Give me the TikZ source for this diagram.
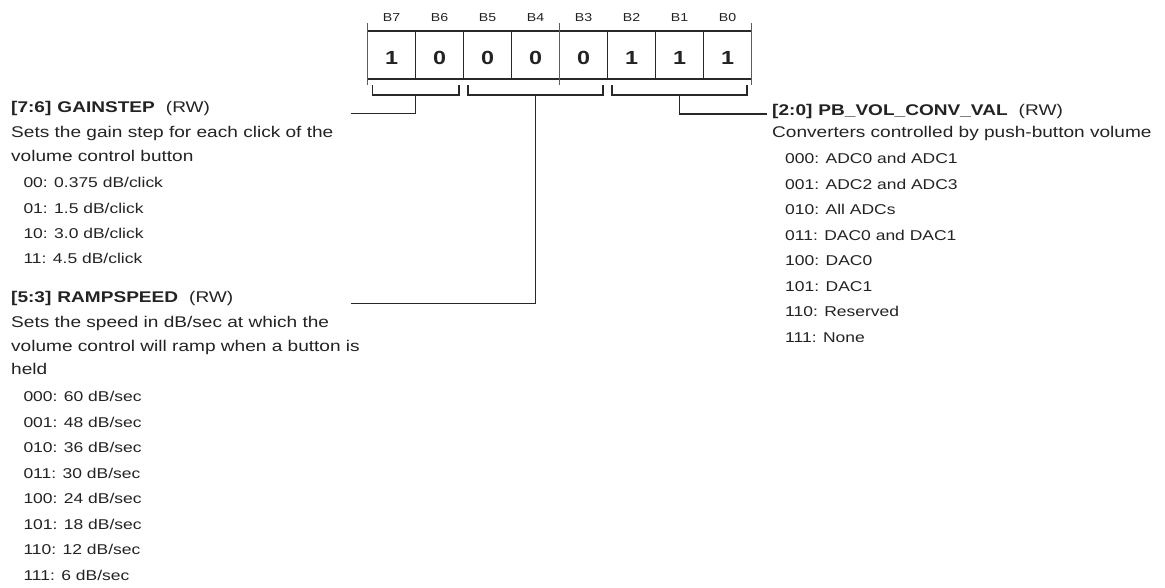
\documentclass[tikz,border=0pt]{standalone}
\usepackage{fontspec}
\setmainfont[FakeStretch=1.23]{Liberation Sans}
\definecolor{ink}{RGB}{35,35,35}
\definecolor{rule}{RGB}{40,40,40}
\begin{document}
\begin{tikzpicture}[x=1pt,y=-1pt,
  txt/.style={inner sep=0pt,anchor=base west,text=ink,font=\fontsize{15.5}{18}\selectfont},
  item/.style={inner sep=0pt,anchor=base west,text=ink,font=\fontsize{14.2}{17}\selectfont},
  bitlbl/.style={inner sep=0pt,anchor=base,text=ink,font=\fontsize{11.5}{13}\selectfont},
  bitval/.style={inner sep=0pt,anchor=base,text=ink,font=\bfseries\fontsize{19}{22}\selectfont},
  cell/.style={draw=rule,line width=1.2pt,minimum width=48pt,minimum height=48pt,inner sep=0pt,outer sep=0pt,anchor=north west},
  wire/.style={draw=rule,line width=1.3pt},
  tick/.style={draw=rule!75,line width=1.2pt}]
\fill[white] (0,0) rectangle (1165,587);
\useasboundingbox (0,0) rectangle (1165,587);
% register
\foreach \i/\v [count=\k from 0] in {7/1,6/0,5/0,4/0,3/0,2/1,1/1,0/1} {
  \node[cell] (c\i) at ({367.5+48*\k},31) {};
  \node[bitval] (v\i) at ({391.5+48*\k},64.8) {\v};
  \node[bitlbl] (b\i) at ({391.5+48*\k},21.1) {B\i};
}
\draw[tick] (367.5,23) -- (367.5,85);
\draw[tick] (559.5,23) -- (559.5,85);
\draw[tick] (751.5,23) -- (751.5,85);
% brackets
\draw[wire] (372.5,85) -- (372.5,95) -- (459,95) -- (459,85);
\draw[wire] (468,85) -- (468,95) -- (603,95) -- (603,85);
\draw[wire] (612,85) -- (612,95) -- (747,95) -- (747,85);
\coordinate (m1) at (415.5,95);
\coordinate (m2) at (535.5,95);
\coordinate (m3) at (679.5,95);
\coordinate (e1) at (351,113.5);
\coordinate (e2) at (351,303.5);
\coordinate (e3) at (767,114);
\draw[wire] (m1) |- (e1);
\draw[wire] (m2) |- (e2);
\draw[wire] (m3) |- (e3);
% GAINSTEP
\node[txt] (t1) at (11,112.5) {\textbf{[7:6]\hspace{6pt}GAINSTEP}\hspace{11pt}(RW)};
\node[txt] (d1a) at (11,137) {Sets the gain step for each click of the};
\node[txt] (d1b) at (11,161) {volume control button};
\foreach \s [count=\k from 0] in {00: 0.375 dB/click,01: 1.5 dB/click,10: 3.0 dB/click,11: 4.5 dB/click}
  \node[item] (g\k) at (23.3,{187.7+25.3*\k}) {\s};
% RAMPSPEED
\node[txt] (t2) at (11,302.2) {\textbf{[5:3]\hspace{6pt}RAMPSPEED}\hspace{11pt}(RW)};
\node[txt] (d2a) at (11,327.2) {Sets the speed in dB/sec at which the};
\node[txt] (d2b) at (11,351.2) {volume control will ramp when a button is};
\node[txt] (d2c) at (11,374.8) {held};
\foreach \s [count=\k from 0] in {000: 60 dB/sec,001: 48 dB/sec,010: 36 dB/sec,011: 30 dB/sec,100: 24 dB/sec,101: 18 dB/sec,110: 12 dB/sec,111: 6 dB/sec}
  \node[item] (r\k) at (23.3,{401.9+25.47*\k}) {\s};
% PB_VOL_CONV_VAL
\node[txt] (t3) at (772,115) {\textbf{[2:0]\hspace{6pt}PB\_VOL\_CONV\_VAL}\hspace{11pt}(RW)};
\node[txt] (d3a) at (772,137.2) {Converters controlled by push-button volume};
\foreach \s [count=\k from 0] in {000: ADC0 and ADC1,001: ADC2 and ADC3,010: All ADCs,011: DAC0 and DAC1,100: DAC0,101: DAC1,110: Reserved,111: None}
  \node[item] (p\k) at (785,{163.7+25.5*\k}) {\s};
\end{tikzpicture}
\end{document}
